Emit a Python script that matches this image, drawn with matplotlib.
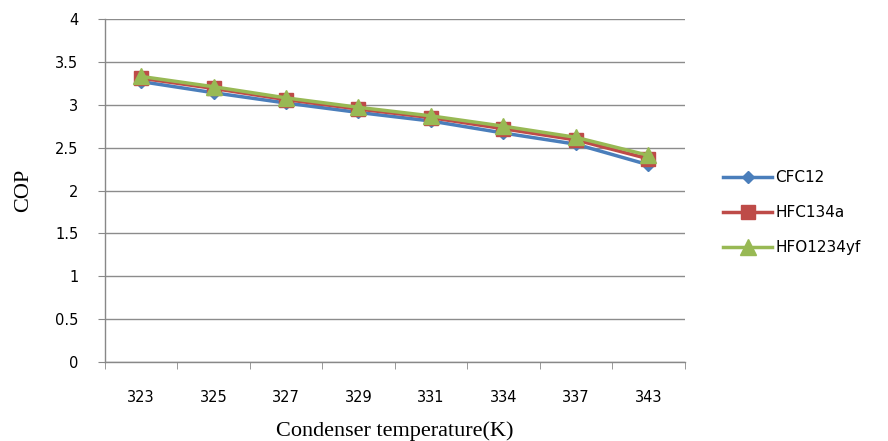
import numpy as np
import matplotlib

matplotlib.use('Agg')
import matplotlib.pyplot as plt

temps = ['323', '325', '327', '329', '331', '334', '337', '343']
cfc12 = [3.27, 3.14, 3.02, 2.91, 2.81, 2.67, 2.54, 2.30]
hfc134a = [3.31, 3.19, 3.06, 2.95, 2.85, 2.72, 2.59, 2.37]
hfo1234yf = [3.33, 3.21, 3.08, 2.97, 2.87, 2.75, 2.62, 2.41]

fig = plt.figure(figsize=(8.88, 4.41), dpi=100)
ax = fig.add_axes([0.118, 0.179, 0.653, 0.778])

x = np.arange(len(temps))
ax.plot(x, cfc12, color='#4A7EBB', linewidth=2.5, marker='D', markersize=6, label='CFC12')
ax.plot(x, hfc134a, color='#BE4B48', linewidth=2.5, marker='s', markersize=10, label='HFC134a')
ax.plot(x, hfo1234yf, color='#98B954', linewidth=2.5, marker='^', markersize=11, label='HFO1234yf')

ax.set_xlim(-0.5, len(temps) - 0.5)
ax.set_ylim(0, 4)
ax.set_yticks(np.arange(0, 4.01, 0.5))
ax.set_yticklabels(['0', '0.5', '1', '1.5', '2', '2.5', '3', '3.5', '4'], fontsize=10.5, family='DejaVu Sans')
ax.set_xticks(x)
ax.set_xticklabels(temps, fontsize=10.5, family='DejaVu Sans')
ax.set_xticks(np.arange(-0.5, len(temps)), minor=True)
ax.tick_params(axis='x', which='major', length=0, pad=20)
ax.tick_params(axis='x', which='minor', length=5, color='#888888')
ax.tick_params(axis='y', length=5, color='#888888', pad=14)

ax.grid(axis='y', color='#8c8c8c', linewidth=1)
ax.set_axisbelow(True)
for s in ['top', 'right']:
    ax.spines[s].set_visible(False)
for s in ['left', 'bottom']:
    ax.spines[s].set_color('#888888')
    ax.spines[s].set_linewidth(1)

ax.set_xlabel('Condenser temperature(K)', family='Liberation Serif', fontsize=16, labelpad=12)
ax.set_ylabel('COP', family='Liberation Serif', fontsize=16, labelpad=16)

leg = ax.legend(loc='center left', bbox_to_anchor=(1.043, 0.435), frameon=False,
                prop={'family': 'DejaVu Sans', 'size': 11}, handlelength=3.2,
                labelspacing=1.3, handletextpad=0.2)

fig.savefig('out.png', dpi=100)
